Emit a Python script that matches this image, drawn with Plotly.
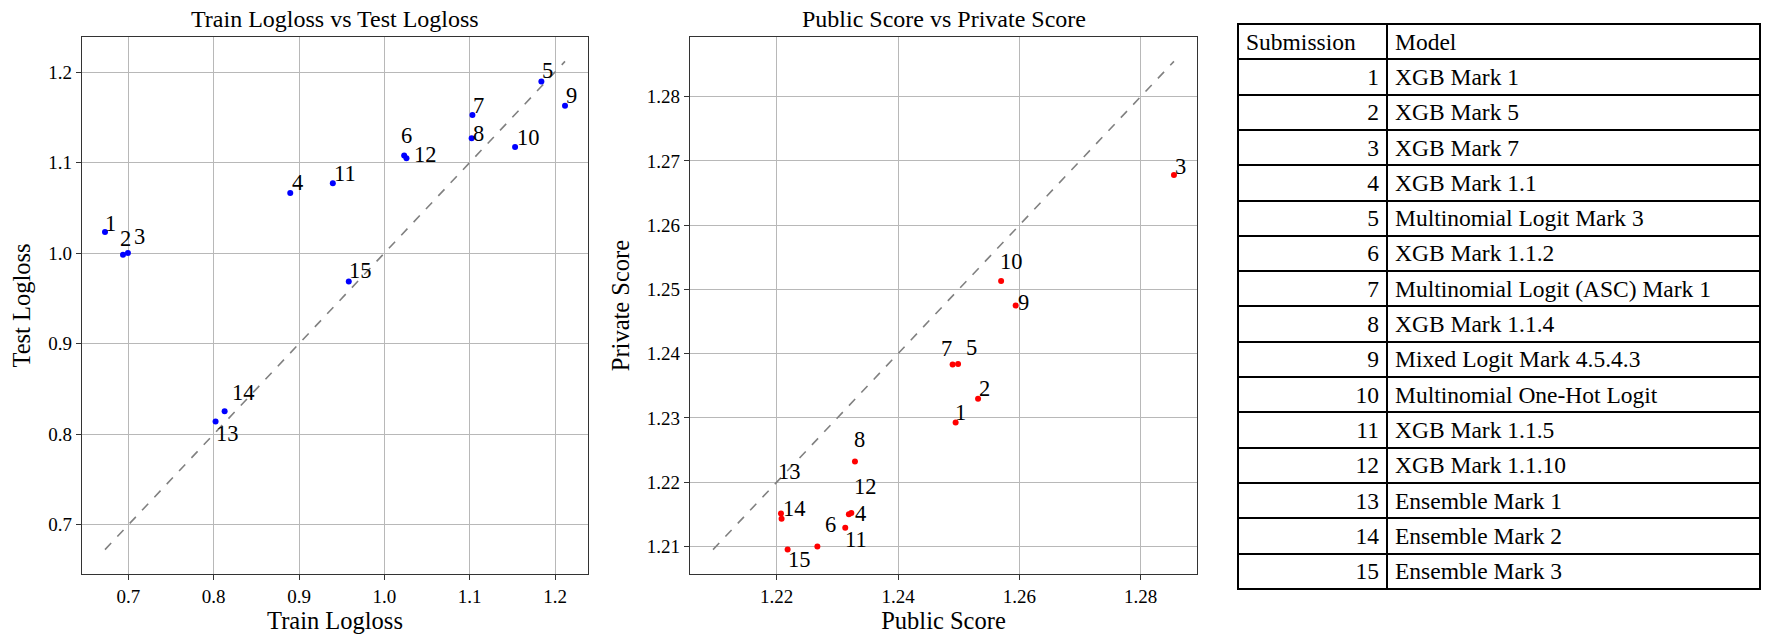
import plotly.graph_objects as go

W, H = 1785, 641

# submissions 1..15
submission = list(range(1, 16))
models = ["XGB Mark 1", "XGB Mark 5", "XGB Mark 7", "XGB Mark 1.1",
          "Multinomial Logit Mark 3", "XGB Mark 1.1.2",
          "Multinomial Logit (ASC) Mark 1", "XGB Mark 1.1.4",
          "Mixed Logit Mark 4.5.4.3", "Multinomial One-Hot Logit",
          "XGB Mark 1.1.5", "XGB Mark 1.1.10", "Ensemble Mark 1",
          "Ensemble Mark 2", "Ensemble Mark 3"]

train_logloss = [0.6726, 0.6937, 0.6995, 0.8897, 1.1840, 1.0232, 1.1032, 1.1023,
                 1.2117, 1.1532, 0.9396, 1.0259, 0.8022, 0.8128, 0.9583]
test_logloss = [1.0232, 0.9981, 1.0000, 1.0665, 1.1896, 1.1077, 1.1525, 1.1268,
                1.1627, 1.1172, 1.0772, 1.1047, 0.8140, 0.8254, 0.9687]

public_score = [1.2495, 1.2532, 1.2855, 1.2319, 1.2499, 1.2313, 1.2490, 1.2329,
                1.2594, 1.2570, 1.2267, 1.2323, 1.2207, 1.2208, 1.2218]
private_score = [1.2293, 1.2330, 1.2678, 1.2150, 1.2384, 1.2129, 1.2383, 1.2232,
                 1.2475, 1.2513, 1.2100, 1.2152, 1.2151, 1.2143, 1.2095]

# label nudges in pixels (dx, dy up), like adjustText moved them
left_nudge = [(5, 9), (2, 16), (12, 17), (7, 10), (6, 11), (2, 20), (6, 10), (7, 5),
              (6, 10), (13, 9), (12, 10), (19, 4), (12, -12), (19, 19), (12, 11)]
mid_nudge = [(5, 10), (6, 10), (7, 9), (12, 1), (13, 16), (-15, 3), (-6, 16), (5, 22),
             (8, 3), (10, 20), (39, 7), (14, 26), (9, 42), (13, 10), (12, -10)]

FONT = "Liberation Serif"


def padded(*series):
    lo = min(min(s) for s in series)
    hi = max(max(s) for s in series)
    pad = 0.05 * (hi - lo)
    return lo, hi, [lo - pad, hi + pad]


def px(v, axis):
    return v / (W if axis == "x" else H)


fig = go.Figure()

lo1, hi1, rng1 = padded(train_logloss, test_logloss)
lo2, hi2, rng2 = padded(public_score, private_score)

fig.add_scatter(x=[lo1, hi1], y=[lo1, hi1], mode="lines",
                line=dict(color="gray", dash="dash", width=1.6),
                xaxis="x", yaxis="y", hoverinfo="skip")
fig.add_scatter(x=train_logloss, y=test_logloss, mode="markers",
                marker=dict(color="blue", size=6), xaxis="x", yaxis="y")
fig.add_scatter(x=[lo2, hi2], y=[lo2, hi2], mode="lines",
                line=dict(color="gray", dash="dash", width=1.6),
                xaxis="x2", yaxis="y2", hoverinfo="skip")
fig.add_scatter(x=public_score, y=private_score, mode="markers",
                marker=dict(color="red", size=6), xaxis="x2", yaxis="y2")

fig.add_trace(go.Table(
    domain=dict(x=[px(1238, "x"), px(1760, "x")], y=[1 - px(600, "y"), 1 - px(24, "y")]),
    columnwidth=[149, 373],
    header=dict(values=["Submission", "Model"], align=["left", "left"],
                fill_color="white", line=dict(color="black", width=2),
                font=dict(family=FONT, size=23.5, color="black"), height=35.3),
    cells=dict(values=[submission, models], align=["right", "left"],
               fill_color="white", line=dict(color="black", width=2),
               font=dict(family=FONT, size=23.5, color="black"), height=35.3),
))

annotations = []
for i, s in enumerate(submission):
    dx, dy = left_nudge[i]
    annotations.append(dict(x=train_logloss[i], y=test_logloss[i], xref="x", yref="y",
                            text=str(s), showarrow=False, xshift=dx, yshift=dy,
                            font=dict(family=FONT, size=22.5, color="black")))
    dx, dy = mid_nudge[i]
    annotations.append(dict(x=public_score[i], y=private_score[i], xref="x2", yref="y2",
                            text=str(s), showarrow=False, xshift=dx, yshift=dy,
                            font=dict(family=FONT, size=22.5, color="black")))

for xr, title in [("x domain", "Train Logloss vs Test Logloss"),
                  ("x2 domain", "Public Score vs Private Score")]:
    annotations.append(dict(x=0.5, xref=xr, y=1 - px(19, "y"), yref="paper",
                            text=title, showarrow=False, yanchor="middle",
                            font=dict(family=FONT, size=24, color="black")))

axis_style = dict(showgrid=True, gridcolor="#b8b8b8", gridwidth=1, zeroline=False,
                  showline=True, linecolor="#333", linewidth=1.2, mirror=True,
                  ticks="outside", ticklen=5, tickcolor="#333",
                  tickfont=dict(family=FONT, size=19, color="black"),
                  autorange=False, automargin=False)
title_font = dict(family=FONT, size=24.5, color="black")

fig.update_layout(
    width=W, height=H,
    margin=dict(l=0, r=0, t=0, b=0),
    paper_bgcolor="white", plot_bgcolor="white",
    showlegend=False,
    annotations=annotations,
    xaxis=dict(axis_style, domain=[px(82, "x"), px(588, "x")], range=rng1,
               dtick=0.1, tickformat=".1f", anchor="y",
               title=dict(text="Train Logloss", font=title_font, standoff=4)),
    yaxis=dict(axis_style, domain=[1 - px(574, "y"), 1 - px(37, "y")], range=rng1,
               dtick=0.1, tickformat=".1f", anchor="x",
               title=dict(text="Test Logloss", font=title_font, standoff=10)),
    xaxis2=dict(axis_style, domain=[px(690, "x"), px(1197, "x")], range=rng2,
                dtick=0.02, tickformat=".2f", anchor="y2",
                title=dict(text="Public Score", font=title_font, standoff=4)),
    yaxis2=dict(axis_style, domain=[1 - px(574, "y"), 1 - px(37, "y")], range=rng2,
                dtick=0.01, tickformat=".2f", anchor="x2",
                title=dict(text="Private Score", font=title_font, standoff=10)),
)

# page body has a default 8px margin; drop it so the figure sits at the window corner
fig.write_html("out.html", config={"displayModeBar": False},
               post_script="document.body.style.margin = '0';")
